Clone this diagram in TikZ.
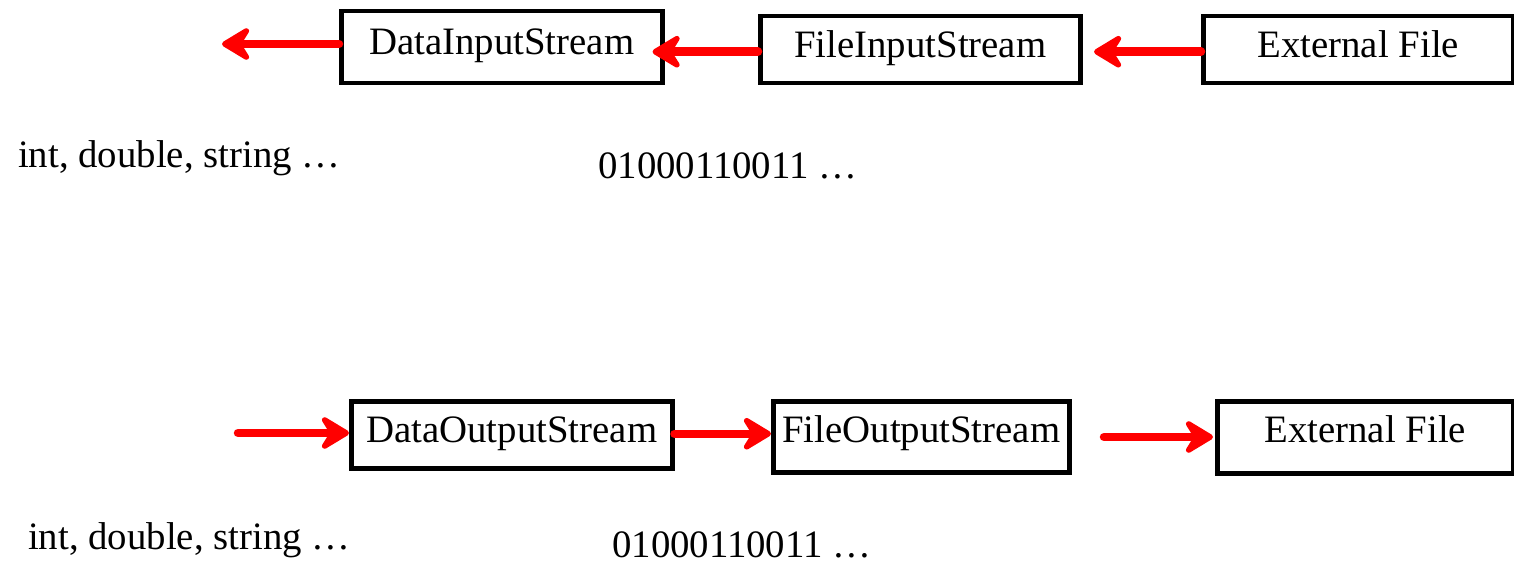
\documentclass[tikz,border=0pt]{standalone}
\usepackage{fontspec}
\setmainfont{Liberation Serif}
\usetikzlibrary{arrows.meta,calc}
\begin{document}
\begin{tikzpicture}[x=1pt,y=-1pt,
  box/.style={draw=black, line width=4.5pt, rectangle, inner sep=0pt, anchor=north west,
    font=\fontsize{38.8}{40}\selectfont, align=center},
  lbl/.style={anchor=base west, inner sep=0pt, font=\fontsize{38.8}{40}\selectfont},
  flow/.style={draw=red, line width=8.5pt, line cap=round,
    -{Stealth[length=35pt, width=42pt, inset=13pt, round]}}]
\useasboundingbox (0,0) rectangle (1514,569);
% top row
\node[box, minimum width=321pt, text height=43pt, text depth=29pt] (dis) at (339,9) {DataInputStream};
\node[box, minimum width=320pt, text height=41pt, text depth=26pt] (fis) at (758,14) {FileInputStream};
\node[box, minimum width=310pt, text height=41pt, text depth=26pt] (ef1) at (1201,14) {External File};
\coordinate (outL) at (222,44);
\draw[flow] (dis.west |- outL) -- (outL);
\draw[flow] ([yshift=-2pt]fis.west) -- ([xshift=-12pt,yshift=-2pt]fis.west -| dis.east);
\draw[flow] ([yshift=-2pt]ef1.west) -- ([xshift=-107pt,yshift=-2pt]ef1.west);
% bottom row
\node[box, minimum width=321pt, text height=41pt, text depth=26pt] (dos) at (349,399) {DataOutputStream};
\node[box, minimum width=296pt, text height=41pt, text depth=30pt] (fos) at (771,399) {FileOutputStream};
\node[box, minimum width=296pt, text height=41pt, text depth=31pt] (ef2) at (1215,399) {External File};
\coordinate (inL) at (238,433);
\draw[flow] (inL) -- (inL -| dos.west);
\draw[flow] ([yshift=1pt]dos.east) -- ([yshift=1pt]dos.east -| fos.west);
\coordinate (fo2) at (1104,437);
\draw[flow] (fo2) -- ([xshift=-2pt]fo2 -| ef2.west);
% labels
\node[lbl] (t1) at (18,168) {int, double, string …};
\node[lbl] (t2) at (598,179) {01000110011 …};
\node[lbl] (t3) at (28,549) {int, double, string …};
\node[lbl] (t4) at (612,557) {01000110011 …};
\end{tikzpicture}
\end{document}
